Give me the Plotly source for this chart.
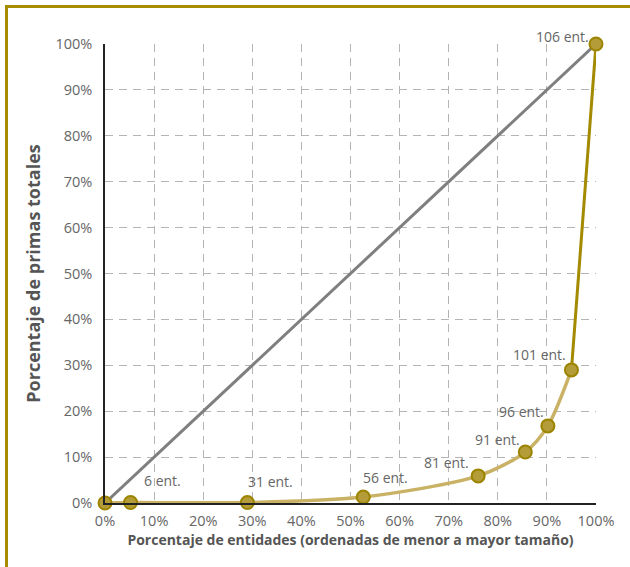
import plotly.graph_objects as go

# Data (percent of entities, percent of total premiums)
entity_pct = [0.0, 5.2, 29.0, 52.6, 76.0, 85.6, 90.2, 95.0, 100.0]
premium_pct = [0.0, 0.1, 0.1, 1.3, 5.9, 11.1, 16.8, 29.0, 100.0]
point_labels = ["", "6 ent.", "31 ent.", "56 ent.", "81 ent.", "91 ent.", "96 ent.", "101 ent.", "106 ent."]
label_dx = [0, 32, 23, 22, -32, -28, -26, -32, -34]
label_dy = [0, 22, 21, 20, 13, 13, 14, 15, 8]

equality_x = [0, 100]
equality_y = [0, 100]

tick_vals = list(range(0, 101, 10))
tick_text = [f"{v}%" for v in tick_vals]

FONT = "Open Sans"
light_gold = "#c9b266"
dark_gold = "#a38a00"
marker_fill = "#b49c38"
marker_line = "#9c8400"

fig = go.Figure()

fig.add_trace(go.Scatter(x=equality_x, y=equality_y, mode="lines",
                         line=dict(color="#7f7f7f", width=3), hoverinfo="skip"))

fig.add_trace(go.Scatter(x=entity_pct[-2:], y=premium_pct[-2:], mode="lines",
                         line=dict(color=dark_gold, width=3), hoverinfo="skip"))

fig.add_trace(go.Scatter(x=entity_pct[:-1], y=premium_pct[:-1], mode="lines",
                         line=dict(color=light_gold, width=3.5, shape="spline", smoothing=0.8),
                         hoverinfo="skip"))

fig.add_trace(go.Scatter(x=entity_pct, y=premium_pct, mode="markers", cliponaxis=False,
                         marker=dict(size=13, color=marker_fill,
                                     line=dict(color=marker_line, width=2)),
                         hoverinfo="skip"))

for x, y, t, dx, dy in zip(entity_pct, premium_pct, point_labels, label_dx, label_dy):
    if t:
        fig.add_annotation(x=x, y=y, text=t, showarrow=False, xshift=dx, yshift=dy,
                           font=dict(family=FONT, size=14, color="#666666"))

# frame
L, R, T, B = 105, 34, 44, 64
W, H = 630, 567
pw, ph = W - L - R, H - T - B
def px(xp):
    return (xp - L) / pw
def py(yp):
    return (H - B - yp) / ph
fig.add_shape(type="rect", xref="paper", yref="paper",
              x0=px(6.5), x1=px(645), y0=py(6.5), y1=py(585),
              line=dict(color="#a88c00", width=3), fillcolor="rgba(0,0,0,0)", layer="below")

axis_common = dict(range=[0, 100], tickvals=tick_vals, ticktext=tick_text,
                   showgrid=True, gridcolor="#b4b4b4", griddash="8px,6px", gridwidth=1,
                   zeroline=False, ticks="",
                   tickfont=dict(family=FONT, size=14.5, color="#666666"))

fig.update_layout(
    width=W, height=H,
    margin=dict(l=L, r=R, t=T, b=B),
    paper_bgcolor="white", plot_bgcolor="white",
    showlegend=False,
    xaxis=dict(**axis_common, showline=True, linecolor="#222222", linewidth=1.5,
               title=dict(text="<b>Porcentaje de entidades (ordenadas de menor a mayor tamaño)</b>",
                          font=dict(family=FONT, size=14, color="#555555"), standoff=2)),
    yaxis=dict(**axis_common, showline=True, linecolor="#222222", linewidth=1.5,
               title=dict(text="<b>Porcentaje de primas totales</b>",
                          font=dict(family=FONT, size=18, color="#555555"), standoff=10)),
)
fig.update_xaxes(ticklabelstandoff=4)
fig.update_yaxes(ticklabelstandoff=8)

fig.write_html("out.html", config={"displayModeBar": False},
               post_script="document.body.style.margin='0';")
